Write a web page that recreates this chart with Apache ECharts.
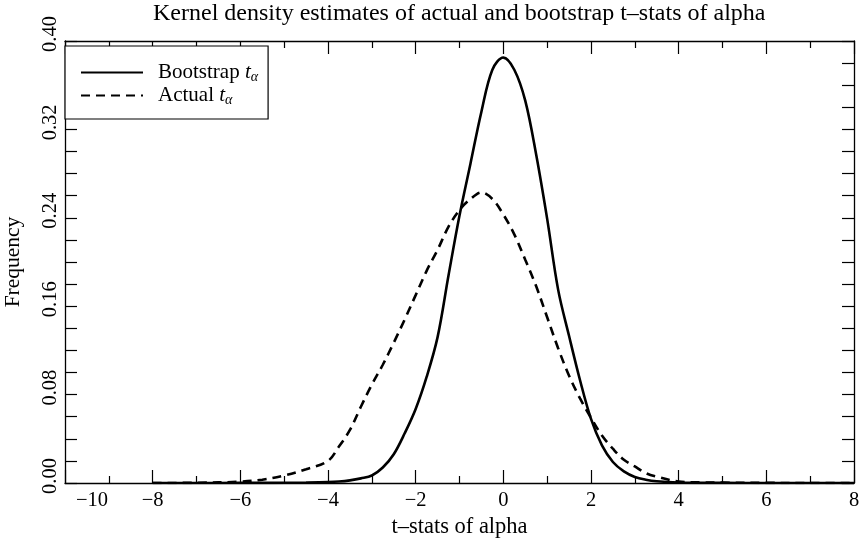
<!DOCTYPE html>
<html>
<head>
<meta charset="utf-8">
<script src="https://cdn.jsdelivr.net/npm/echarts@6/dist/echarts.min.js"></script>
<style>
  html, body { margin: 0; padding: 0; background: #fff; }
  #chart { width: 861px; height: 544px; }
</style>
</head>
<body>
<div id="chart"></div>
<script>
// Grid of t-statistics at which both kernel density estimates are evaluated
const tGrid = [-8, -7, -6, -5.5, -5, -4.5, -4, -3.75, -3.5, -3.25, -3, -2.75, -2.5, -2.25, -2, -1.75, -1.5, -1.25, -1, -0.75, -0.5, -0.25, 0, 0.25, 0.5, 0.75, 1, 1.25, 1.5, 1.75, 2, 2.25, 2.5, 2.75, 3, 3.25, 3.5, 4, 4.5, 5, 6, 7, 8];

// Density of bootstrapped t-stats of alpha
const bootstrapDensity = [0, 0, 0.0001, 0.0001, 0.0002, 0.0004, 0.0008, 0.0013, 0.0024, 0.0042, 0.0068, 0.0140, 0.0260, 0.0450, 0.0670, 0.0960, 0.1320, 0.1880, 0.2420, 0.2890, 0.3360, 0.3740, 0.3850, 0.3740, 0.3460, 0.2970, 0.2390, 0.1750, 0.1330, 0.0930, 0.0580, 0.0340, 0.0190, 0.0105, 0.0055, 0.0030, 0.0016, 0.0004, 0.0001, 0.0001, 0, 0, 0];

// Density of actual t-stats of alpha
const actualDensity = [0, 0.0002, 0.0012, 0.0030, 0.0068, 0.0125, 0.0200, 0.0330, 0.0480, 0.0690, 0.0890, 0.1070, 0.1270, 0.1480, 0.1700, 0.1920, 0.2110, 0.2320, 0.2470, 0.2570, 0.2630, 0.2570, 0.2430, 0.2250, 0.2020, 0.1780, 0.1500, 0.1220, 0.0970, 0.0765, 0.0590, 0.0430, 0.0310, 0.0210, 0.0150, 0.0090, 0.0057, 0.0013, 0.0005, 0.0003, 0.0001, 0, 0];

const seriesNames = ['Bootstrap', 'Actual'];
const titleText = 'Kernel density estimates of actual and bootstrap t\u2013stats of alpha';
const xAxisName = 't\u2013stats of alpha';
const yAxisName = 'Frequency';

const FONT = '"Liberation Serif", "Times New Roman", serif';
const LABEL_SIZE = 20.5;

function pairs(ys) {
  return tGrid.map((t, i) => [t, ys[i]]);
}

const chart = echarts.init(document.getElementById('chart'), null, { renderer: 'canvas' });

const tickBase = { show: true, inside: true, lineStyle: { color: '#000', width: 1.2 } };
const axisLineBase = { show: true, onZero: false, lineStyle: { color: '#000', width: 1.3 } };

chart.setOption({
  backgroundColor: '#fff',
  animation: false,
  title: {
    text: titleText,
    // title sits centred over the plot area, not the whole canvas
    left: 153,
    top: 2,
    padding: 0,
    textStyle: { fontFamily: FONT, fontSize: 24, fontWeight: 'normal', color: '#000' }
  },
  grid: { left: 65, right: 7, top: 41, bottom: 61, containLabel: false, outerBoundsMode: 'none' },
  legend: {
    data: seriesNames,
    orient: 'vertical',
    left: 65,
    top: 46,
    padding: [16, 10, 12, 15],
    itemWidth: 62,
    itemHeight: 14,
    itemGap: 1,
    borderColor: '#000',
    borderWidth: 1.2,
    borderRadius: 0,
    backgroundColor: '#fff',
    itemStyle: { color: 'rgba(0,0,0,0)', borderColor: 'rgba(0,0,0,0)', borderWidth: 0 },
    formatter: name => name + ' {t|t}{s|\u03b1}',
    textStyle: {
      fontFamily: FONT, fontSize: 21, color: '#000', padding: [0, 0, 0, 10],
      rich: {
        t: { fontFamily: FONT, fontSize: 21, fontStyle: 'italic', color: '#000' },
        s: { fontFamily: FONT, fontSize: 14, fontStyle: 'italic', color: '#000', padding: [9, 0, 0, 0] }
      }
    }
  },
  xAxis: [
    {
      type: 'value',
      min: -10,
      max: 8,
      interval: 2,
      position: 'bottom',
      name: xAxisName,
      nameLocation: 'middle',
      nameGap: 33,
      nameTextStyle: { fontFamily: FONT, fontSize: 22.5, color: '#000' },
      axisLine: axisLineBase,
      axisTick: Object.assign({ length: 13 }, tickBase),
      minorTick: { show: true, splitNumber: 2, length: 7, lineStyle: { color: '#000', width: 1.2 } },
      splitLine: { show: false },
      axisLabel: {
        show: true,
        margin: 7,
        color: '#000',
        fontFamily: FONT,
        fontSize: LABEL_SIZE,
        formatter: v => (v === -10 ? '{first|\u221210}' : String(v).replace('-', '\u2212')),
        rich: { first: { fontFamily: FONT, fontSize: LABEL_SIZE, color: '#000', padding: [0, 0, 0, 54] } }
      }
    },
    {
      type: 'value',
      min: -10,
      max: 8,
      interval: 2,
      position: 'top',
      axisLine: axisLineBase,
      axisTick: Object.assign({ length: 13 }, tickBase),
      minorTick: { show: true, splitNumber: 2, length: 7, lineStyle: { color: '#000', width: 1.2 } },
      splitLine: { show: false },
      axisLabel: { show: false }
    }
  ],
  yAxis: [
    {
      type: 'value',
      min: 0,
      max: 0.4,
      interval: 0.08,
      position: 'left',
      name: yAxisName,
      nameLocation: 'middle',
      nameGap: 41,
      nameRotate: 90,
      nameTextStyle: { fontFamily: FONT, fontSize: 21.5, color: '#000' },
      axisLine: axisLineBase,
      axisTick: Object.assign({ length: 12 }, tickBase),
      minorTick: { show: true, splitNumber: 4, length: 12, lineStyle: { color: '#000', width: 1.2 } },
      splitLine: { show: false },
      axisLabel: {
        show: true,
        rotate: 90,
        margin: 4,
        color: '#000',
        fontFamily: FONT,
        fontSize: LABEL_SIZE,
        padding: [0, 0, 0, 14],
        formatter: v => v.toFixed(2)
      }
    },
    {
      type: 'value',
      min: 0,
      max: 0.4,
      interval: 0.08,
      position: 'right',
      axisLine: axisLineBase,
      axisTick: Object.assign({ length: 12 }, tickBase),
      minorTick: { show: true, splitNumber: 4, length: 12, lineStyle: { color: '#000', width: 1.2 } },
      splitLine: { show: false },
      axisLabel: { show: false }
    }
  ],
  series: [
    {
      name: seriesNames[0],
      type: 'line',
      data: pairs(bootstrapDensity),
      smooth: 0.35,
      symbol: 'none',
      itemStyle: { color: '#000' },
      lineStyle: { color: '#000', width: 2.6, type: 'solid' },
      z: 3
    },
    {
      name: seriesNames[1],
      type: 'line',
      data: pairs(actualDensity),
      smooth: 0.35,
      symbol: 'none',
      itemStyle: { color: '#000' },
      lineStyle: { color: '#000', width: 2.6, type: [9, 6] },
      z: 3
    }
  ]
});
</script>
</body>
</html>
